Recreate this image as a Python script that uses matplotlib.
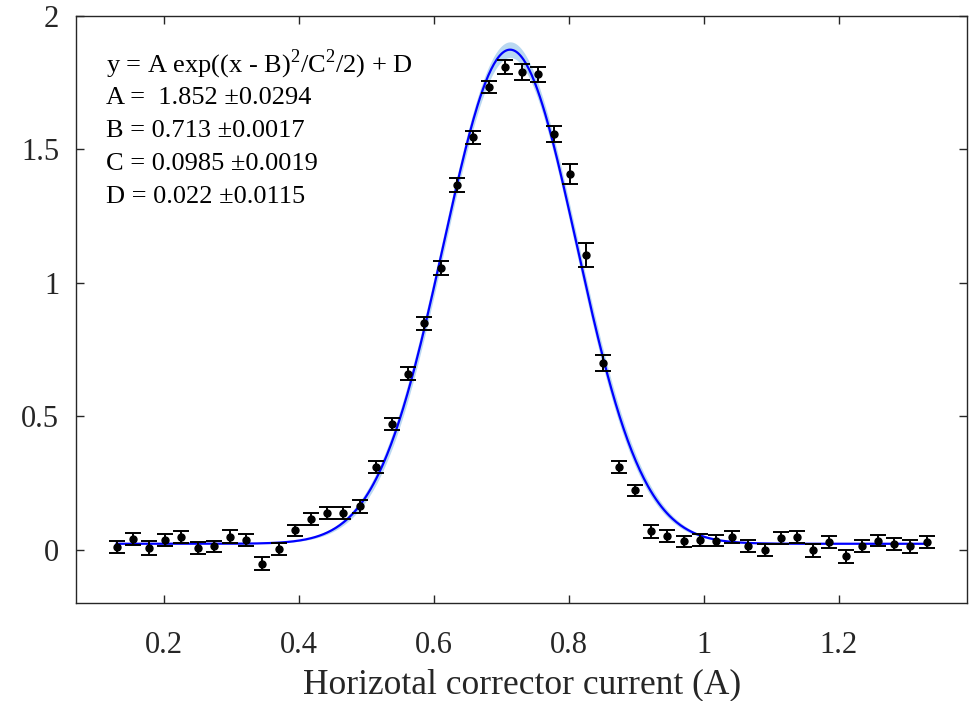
import numpy as np
import matplotlib
matplotlib.use("Agg")
import matplotlib.pyplot as plt

# measured points (current in A, signal) with error bars
current = [0.130, 0.154, 0.178, 0.202, 0.226, 0.250, 0.274, 0.298, 0.322, 0.346,
           0.370, 0.394, 0.418, 0.442, 0.466, 0.490, 0.514, 0.538, 0.562, 0.586,
           0.610, 0.634, 0.658, 0.682, 0.706, 0.730, 0.754, 0.778, 0.802, 0.826,
           0.850, 0.874, 0.898, 0.922, 0.946, 0.970, 0.994, 1.018, 1.042, 1.066,
           1.090, 1.114, 1.138, 1.162, 1.186, 1.210, 1.234, 1.258, 1.282, 1.306,
           1.330]
signal = [0.010, 0.040, 0.005, 0.037, 0.047, 0.005, 0.012, 0.048, 0.037, -0.052,
          0.002, 0.072, 0.115, 0.137, 0.137, 0.162, 0.310, 0.470, 0.660, 0.848,
          1.055, 1.366, 1.546, 1.733, 1.810, 1.789, 1.781, 1.557, 1.407, 1.105,
          0.699, 0.310, 0.222, 0.069, 0.050, 0.031, 0.037, 0.034, 0.047, 0.013,
          0.000, 0.044, 0.048, -0.002, 0.028, -0.025, 0.015, 0.034, 0.022, 0.012,
          0.029]
signal_err = [0.024, 0.022, 0.026, 0.022, 0.022, 0.022, 0.022, 0.024, 0.022, 0.024,
              0.022, 0.022, 0.022, 0.022, 0.022, 0.024, 0.022, 0.022, 0.024, 0.024,
              0.026, 0.026, 0.024, 0.022, 0.026, 0.030, 0.028, 0.030, 0.037, 0.044,
              0.030, 0.022, 0.022, 0.024, 0.022, 0.022, 0.022, 0.022, 0.022, 0.022,
              0.022, 0.022, 0.022, 0.024, 0.022, 0.024, 0.022, 0.022, 0.022, 0.024,
              0.022]

# fit parameters as printed on the chart
A, dA = 1.852, 0.0294
B, dB = 0.713, 0.0017
C, dC = 0.0985, 0.0019
D, dD = 0.022, 0.0115

fit_lines = ["y = A exp((x - B)$^2$/C$^2$/2) + D",
             "A =  1.852 \u00b10.0294",
             "B = 0.713 \u00b10.0017",
             "C = 0.0985 \u00b10.0019",
             "D = 0.022 \u00b10.0115"]

plt.rcParams['font.family'] = ['Liberation Serif', 'DejaVu Serif']
plt.rcParams['mathtext.fontset'] = 'custom'
plt.rcParams['mathtext.rm'] = 'Liberation Serif'

fig = plt.figure(figsize=(9.71, 7.01), dpi=100)
ax = fig.add_axes([0.0783, 0.1398, 0.9177, 0.8373])

# fitted gaussian and its band from the parameter errors
xf = np.linspace(0.13, 1.33, 600)
g = np.exp(-(xf - B)**2 / C**2 / 2)
yf = A * g + D
band = np.sqrt((dA * g)**2 + (A * g * (xf - B) / C**2 * dB)**2 +
               (A * g * (xf - B)**2 / C**3 * dC)**2)
ax.fill_between(xf, yf - band, yf + band, color='#9cc8ec', alpha=0.7, lw=0)
ax.plot(xf, yf, color='#0000ff', lw=1.6)

ax.errorbar(current, signal, yerr=signal_err, fmt='o', color='black',
            ms=5, elinewidth=1.4, capsize=6, capthick=1.4, zorder=3)

ax.set_xlim(0.07, 1.39)
ax.set_ylim(-0.2, 2)
ax.set_xticks([0.2, 0.4, 0.6, 0.8, 1.0, 1.2])
ax.set_xticklabels(['0.2', '0.4', '0.6', '0.8', '1', '1.2'])
ax.set_yticks([0, 0.5, 1, 1.5, 2])
ax.set_yticklabels(['0', '0.5', '1', '1.5', '2'])

grey = '#262626'
for s in ax.spines.values():
    s.set_color(grey)
    s.set_linewidth(1.0)
ax.tick_params(direction='in', top=True, right=True, length=6, width=1,
               colors=grey, labelsize=22)
ax.tick_params(axis='y', pad=12)
ax.tick_params(axis='x', pad=20)
ax.set_xlabel("Horizotal corrector current (A)", fontsize=25.5, color=grey, labelpad=6)

for i, line in enumerate(fit_lines):
    ax.text(0.034, 0.917 - i * 0.0565, line, transform=ax.transAxes,
            fontsize=19, color='black', va='center', ha='left')

fig.savefig("out.png", dpi=100)
